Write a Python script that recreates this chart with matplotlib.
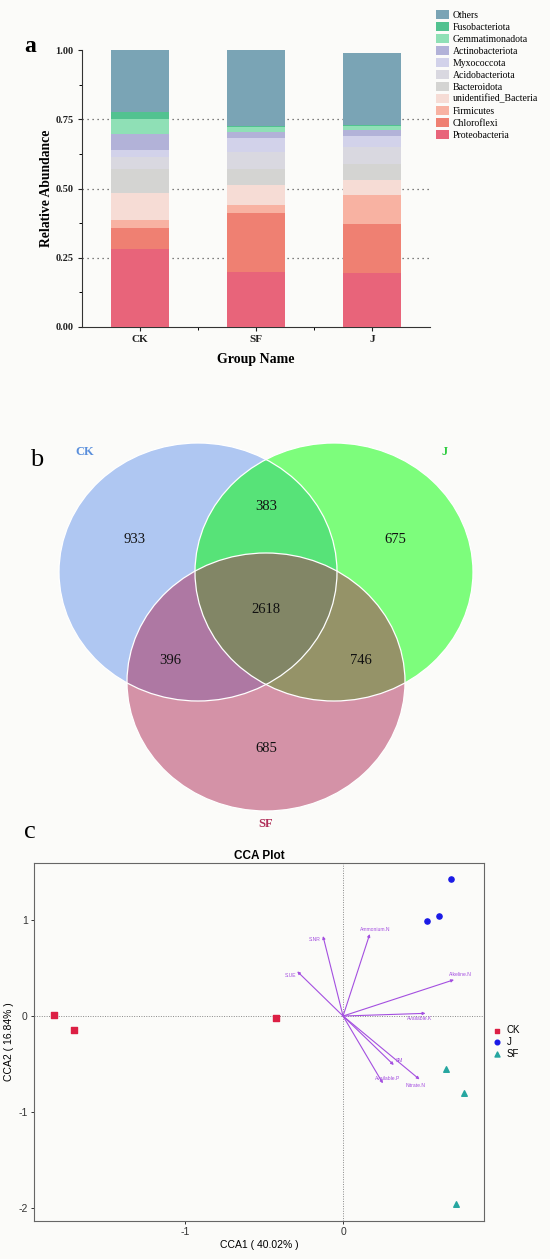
import numpy as np
import matplotlib.pyplot as plt
from matplotlib.patches import Ellipse

plt.rcParams['axes.unicode_minus'] = False

# ---- panel a: relative abundance (bottom -> top)
groups = ['CK', 'SF', 'J']
taxa = ['Proteobacteria', 'Chloroflexi', 'Firmicutes', 'unidentified_Bacteria',
        'Bacteroidota', 'Acidobacteriota', 'Myxococcota', 'Actinobacteriota',
        'Gemmatimonadota', 'Fusobacteriota', 'Others']
abund_ck = [0.280, 0.077, 0.029, 0.096, 0.088, 0.045, 0.025, 0.057, 0.055, 0.023, 0.225]
abund_sf = [0.199, 0.211, 0.030, 0.072, 0.058, 0.063, 0.051, 0.021, 0.018, 0.004, 0.273]
abund_j = [0.195, 0.178, 0.102, 0.055, 0.060, 0.060, 0.039, 0.022, 0.016, 0.004, 0.259]
taxa_colors = ['#e8647a', '#ef8072', '#f8b2a2', '#f6dcd5', '#d4d4d2', '#d9d8e0',
               '#d2d2ea', '#b2b2d8', '#8fe0b6', '#52c290', '#7aa4b5']

# ---- panel b: venn counts
venn_names = ['CK', 'J', 'SF']
only_ck, only_j, only_sf = 933, 675, 685
ck_j, ck_sf, j_sf = 383, 396, 746
ck_j_sf = 2618

# ---- panel c: CCA
ck_x = [-1.829, -1.706, -0.427]
ck_y = [0.010, -0.146, -0.017]
j_x = [0.533, 0.609, 0.685]
j_y = [0.993, 1.045, 1.431]
sf_x = [0.653, 0.767, 0.712]
sf_y = [-0.552, -0.802, -1.962]
env_names = ['S.NR', 'Ammonium.N', 'S.UE', 'Alkeline.N', 'Available.K', 'SM',
             'Nitrate.N', 'Available.P']
env_x = [-0.127, 0.169, -0.290, 0.702, 0.522, 0.321, 0.484, 0.252]
env_y = [0.833, 0.854, 0.465, 0.378, 0.028, -0.510, -0.660, -0.701]

W, H = 550, 1259
bg = '#fbfbf9'
fig = plt.figure(figsize=(W / 100, H / 100), dpi=100, facecolor=bg)
serif = 'Liberation Serif'
sans = 'Liberation Sans'

# ================= a =================
ax = fig.add_axes([82 / W, 1 - 327 / H, 348 / W, 277 / H], facecolor=bg)
xpos = np.arange(len(groups))
data = np.array([abund_ck, abund_sf, abund_j])
bottom = np.zeros(len(groups))
for k, name in enumerate(taxa):
    ax.bar(xpos, data[:, k], bottom=bottom, width=0.5, color=taxa_colors[k],
           label=name, zorder=3)
    bottom += data[:, k]
for yv in [0.25, 0.5, 0.75]:
    ax.axhline(yv, color='#555555', ls=(0, (1, 3)), lw=0.9, zorder=1)
ax.set_xlim(-0.5, 2.5)
ax.set_ylim(0, 1.0)
ax.set_yticks([0, 0.25, 0.5, 0.75, 1.0])
ax.set_yticklabels(['0.00', '0.25', '0.50', '0.75', '1.00'])
ax.set_yticks(np.arange(0.125, 1.0, 0.25), minor=True)
ax.set_xticks(xpos)
ax.set_xticklabels(groups)
ax.set_xticks([0.5, 1.5], minor=True)
for s in ['top', 'right']:
    ax.spines[s].set_visible(False)
for s in ['left', 'bottom']:
    ax.spines[s].set_color('#333333')
ax.tick_params(length=3, width=0.8, colors='#222222', pad=3)
ax.tick_params(which='minor', length=2, width=0.7)
for lab in ax.get_xticklabels() + ax.get_yticklabels():
    lab.set_fontfamily(serif)
    lab.set_fontweight('bold')
    lab.set_fontsize(7.5)
for lab in ax.get_xticklabels():
    lab.set_fontsize(8)
ax.set_ylabel('Relative Abundance', fontfamily=serif, fontweight='bold', fontsize=9.8)
ax.yaxis.set_label_coords(-0.083, 0.5)
ax.set_xlabel('Group Name', fontfamily=serif, fontweight='bold', fontsize=10, labelpad=6)
h, l = ax.get_legend_handles_labels()
leg = fig.legend(h[::-1], l[::-1], loc='upper left', bbox_to_anchor=(432 / W, 1 - 6 / H),
                 frameon=False, prop={'family': serif, 'size': 7},
                 handlelength=1.3, handleheight=1.0, labelspacing=0.24,
                 handletextpad=0.45, borderaxespad=0)
fig.text(30 / W, 1 - 46 / H, 'a', family=serif, fontsize=17, fontweight='bold',
         ha='center', va='center')

# ================= b =================
axb = fig.add_axes([0, 1 - 840 / H, 1, 420 / H])
axb.set_xlim(0, W)
axb.set_ylim(840, 420)
axb.axis('off')
circles = [((198, 572), '#6495ED'), ((334, 572), '#00FF00'), ((266, 682), '#AE2A56')]
for (c, col) in circles:
    axb.add_patch(Ellipse(c, 278, 258, facecolor=col, alpha=0.5, edgecolor='none'))
for (c, col) in circles:
    axb.add_patch(Ellipse(c, 278, 258, facecolor='none', edgecolor='white', lw=0.9))
count_pos = [(135, 539, only_ck), (266, 506, ck_j), (395, 539, only_j),
             (266, 609, ck_j_sf), (170, 660, ck_sf), (361, 660, j_sf),
             (266, 748, only_sf)]
for px, py, v in count_pos:
    axb.text(px, py, str(v), family=serif, fontsize=10.5, ha='center', va='center',
             color='#111111')
name_pos = [(85, 452, '#5a8fdc'), (445, 452, '#2ecc40'), (266, 824, '#b0305a')]
for (px, py, col), nm in zip(name_pos, venn_names):
    axb.text(px, py, nm, family=serif, fontsize=9, fontweight='bold', color=col,
             ha='center', va='center')
fig.text(37 / W, 1 - 460 / H, 'b', family=serif, fontsize=19, ha='center', va='center')
fig.text(30 / W, 1 - 832 / H, 'c', family=serif, fontsize=19, ha='center', va='center')

# ================= c =================
axc = fig.add_axes([34 / W, 1 - 1221 / H, 450 / W, 358 / H], facecolor=bg)
axc.set_xlim(-1.956, 0.892)
axc.set_ylim(-2.135, 1.594)
axc.axhline(0, color='#888888', ls=(0, (1, 1.5)), lw=0.7, zorder=1)
axc.axvline(0, color='#888888', ls=(0, (1, 1.5)), lw=0.7, zorder=1)
purple = '#a44fe0'
offsets = [(-8, -3), (5, 5), (-7, -4), (6, 5), (-6, -5), (6, 4), (-4, -6), (5, 5)]
for nm, ex, ey, off in zip(env_names, env_x, env_y, offsets):
    axc.annotate('', xy=(ex, ey), xytext=(0, 0),
                 arrowprops=dict(arrowstyle='-|>', color=purple, lw=0.8,
                                 mutation_scale=4, shrinkA=0, shrinkB=0))
    axc.annotate(nm, xy=(ex, ey), xytext=off, textcoords='offset pixels',
                 fontsize=3.6, color=purple, family=sans, ha='center', va='center')
axc.scatter(ck_x, ck_y, marker='s', s=14, color='#dc1f44', label='CK', zorder=4)
axc.scatter(j_x, j_y, marker='o', s=14, color='#1a1ae6', label='J', zorder=4)
axc.scatter(sf_x, sf_y, marker='^', s=16, color='#26a6a0', label='SF', zorder=4)
axc.set_xticks([-1, 0])
axc.set_yticks([-2, -1, 0, 1])
for s in axc.spines.values():
    s.set_color('#666666')
    s.set_linewidth(0.8)
axc.tick_params(length=2.5, width=0.7, labelsize=7.5, colors='#333333', pad=2)
for lab in axc.get_xticklabels() + axc.get_yticklabels():
    lab.set_fontfamily(sans)
axc.set_xlabel('CCA1 ( 40.02% )', family=sans, fontsize=7.5, labelpad=2)
axc.set_ylabel('CCA2 ( 16.84% )', family=sans, fontsize=7.5, labelpad=3)
axc.set_title('CCA Plot', family=sans, fontweight='bold', fontsize=8.5, pad=3)
axc.legend(loc='center left', bbox_to_anchor=(0.99, 0.5), frameon=False,
           prop={'family': sans, 'size': 7}, handletextpad=0.0, labelspacing=0.2,
           markerscale=0.9, borderpad=0.3)

fig.savefig('out.png', dpi=100, facecolor=bg)
